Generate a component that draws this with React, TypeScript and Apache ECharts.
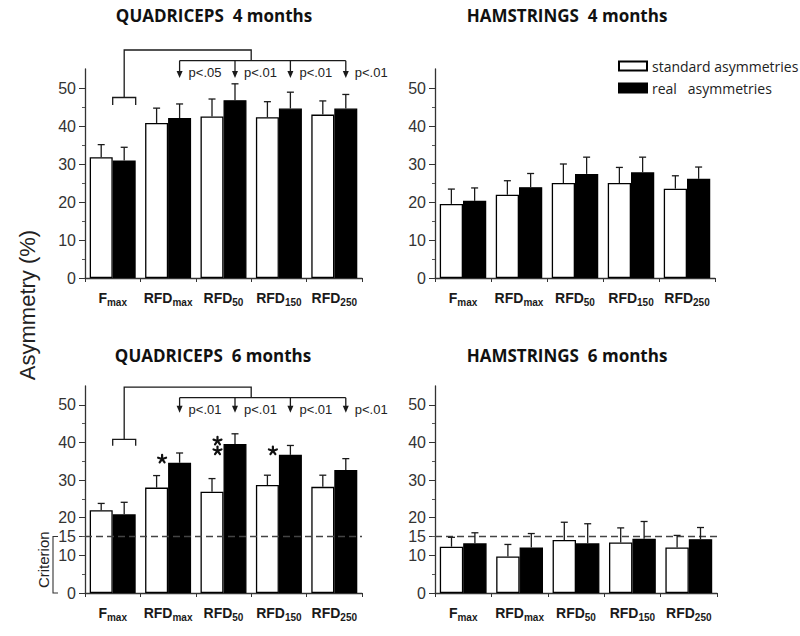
import React, { useEffect, useRef } from 'react';
import * as echarts from 'echarts';

// ---------- data ----------
const catBase = ['F', 'RFD', 'RFD', 'RFD', 'RFD'];
const catSub = ['max', 'max', '50', '150', '250'];
const categories = catBase.map((b, i) => b + '|' + catSub[i]);

const panelTitles = ['QUADRICEPS  4 months', 'HAMSTRINGS  4 months', 'QUADRICEPS  6 months', 'HAMSTRINGS  6 months'];
const seriesNames = ['standard asymmetries', 'real   asymmetries'];
const yAxisTitle = 'Asymmetry (%)';
const criterionTitle = 'Criterion';

const quad4Std = [31.8, 40.8, 42.5, 42.3, 43.0];
const quad4StdErr = [3.3, 3.9, 4.6, 4.1, 3.6];
const quad4Real = [30.9, 42.1, 46.8, 44.6, 44.6];
const quad4RealErr = [3.5, 3.7, 4.3, 4.3, 3.7];

const ham4Std = [19.5, 21.9, 25.0, 25.0, 23.5];
const ham4StdErr = [3.9, 3.7, 5.0, 4.1, 3.4];
const ham4Real = [20.3, 23.9, 27.4, 27.8, 26.1];
const ham4RealErr = [3.4, 3.6, 4.4, 4.0, 3.1];

const quad6Std = [22.0, 28.0, 26.9, 28.7, 28.2];
const quad6StdErr = [1.8, 3.2, 3.5, 2.6, 3.1];
const quad6Real = [20.9, 34.6, 39.6, 36.7, 32.7];
const quad6RealErr = [3.2, 2.6, 2.7, 2.5, 3.0];

const ham6Std = [12.3, 9.7, 14.1, 13.4, 12.1];
const ham6StdErr = [2.5, 3.2, 4.7, 3.9, 3.2];
const ham6Real = [13.2, 12.1, 13.2, 14.4, 14.3];
const ham6RealErr = [2.8, 3.7, 5.2, 4.6, 3.1];

const yTickLabels = [0, 10, 20, 30, 40, 50];
const yTickLabelsCriterion = [0, 10, 15, 20, 30, 40, 50];
const criterion = 15;

const pLabels4 = ['p<.05', 'p<.01', 'p<.01', 'p<.01'];
const pLabels6 = ['p<.01', 'p<.01', 'p<.01', 'p<.01'];
// [small bracket leg end, small bracket, top line, second line, arrow tip, p text level]
const bracketLevels4 = [45.5, 47.5, 60, 57.2, 52.6, 54.0];
const bracketLevels6 = [39.1, 40.8, 54.7, 51.9, 47.9, 48.8];
// significance asterisks (6 months quadriceps): levels of each asterisk per category
const starLevels6 = [[], [35.6], [40.4, 37.8], [37.8], []];

// ---------- layout ----------
const GAP = 0.17;
const grids = [
  { left: 85, top: 69, width: 277, height: 209 },
  { left: 435, top: 69, width: 280, height: 209 },
  { left: 85, top: 386, width: 277, height: 207 },
  { left: 435, top: 386, width: 282, height: 207 },
];
const titlePos = [
  [214, 15],
  [567, 15],
  [213, 355],
  [567, 355],
];

const panels = [
  { std: quad4Std, stdErr: quad4StdErr, real: quad4Real, realErr: quad4RealErr, crit: false, bracket: bracketLevels4 as number[] | null, p: pLabels4 as string[] | null, stars: false, critLabel: false },
  { std: ham4Std, stdErr: ham4StdErr, real: ham4Real, realErr: ham4RealErr, crit: false, bracket: null, p: null, stars: false, critLabel: false },
  { std: quad6Std, stdErr: quad6StdErr, real: quad6Real, realErr: quad6RealErr, crit: true, bracket: bracketLevels6, p: pLabels6, stars: true, critLabel: true },
  { std: ham6Std, stdErr: ham6StdErr, real: ham6Real, realErr: ham6RealErr, crit: true, bracket: null, p: null, stars: false, critLabel: false },
];

const LINE = '#1a1a1a';
const FONT = '"Liberation Sans", Arial, sans-serif';

function asterisk(x: number, y: number) {
  const r = 4.2;
  const spokes: any[] = [];
  for (let k = 0; k < 5; k++) {
    const a = -Math.PI / 2 + (k * 2 * Math.PI) / 5;
    spokes.push({
      type: 'line',
      shape: { x1: x, y1: y, x2: x + r * Math.cos(a), y2: y + r * Math.sin(a) },
      style: { stroke: '#111', lineWidth: 2.2, lineCap: 'round' },
    });
  }
  return spokes;
}

function buildOption() {
  const series: any[] = [];
  panels.forEach((pn, gi) => {
    series.push({
      name: seriesNames[0],
      type: 'bar',
      xAxisIndex: gi,
      yAxisIndex: gi,
      data: pn.std,
      barGap: '0%',
      barCategoryGap: (GAP * 100) + '%',
      itemStyle: { color: '#ffffff', borderColor: '#000', borderWidth: 1.3 },
      z: 2,
      markLine: pn.crit
        ? {
            silent: true,
            symbol: ['none', 'none'],
            label: { show: false },
            lineStyle: { type: [7, 4], color: '#444', width: 1.3 },
            data: [{ yAxis: criterion }],
          }
        : undefined,
    });
    series.push({
      name: seriesNames[1],
      type: 'bar',
      xAxisIndex: gi,
      yAxisIndex: gi,
      data: pn.real,
      barGap: '0%',
      barCategoryGap: (GAP * 100) + '%',
      itemStyle: { color: '#000000', borderColor: '#000', borderWidth: 1.3 },
      z: 2,
    });
    const errData: number[][] = [];
    pn.std.forEach((v, i) => errData.push([i, v, pn.stdErr[i], -1]));
    pn.real.forEach((v, i) => errData.push([i, v, pn.realErr[i], 1]));
    series.push({
      type: 'custom',
      xAxisIndex: gi,
      yAxisIndex: gi,
      z: 5,
      silent: true,
      encode: { x: 0, y: 1 },
      data: errData,
      renderItem: (params: any, api: any) => {
        const idx = api.value(0);
        const mean = api.value(1);
        const err = api.value(2);
        const side = api.value(3);
        const bw = api.size([1, 0])[0];
        const barW = (bw * (1 - GAP)) / 2;
        const c = api.coord([idx, mean]);
        const t = api.coord([idx, mean + err]);
        const x = c[0] + (side * barW) / 2;
        const st = { stroke: LINE, lineWidth: 1.3 };
        return {
          type: 'group',
          children: [
            { type: 'line', shape: { x1: x, y1: c[1], x2: x, y2: t[1] }, style: st },
            { type: 'line', shape: { x1: x - 3.5, y1: t[1], x2: x + 3.5, y2: t[1] }, style: st },
          ],
        };
      },
    });
    if (pn.bracket || pn.critLabel || pn.stars) {
      series.push({
        type: 'custom',
        xAxisIndex: gi,
        yAxisIndex: gi,
        z: 6,
        silent: true,
        clip: false,
        encode: { x: 0, y: 1 },
        data: [[0, 0]],
        renderItem: (params: any, api: any) => {
          const bw = api.size([1, 0])[0];
          const barW = (bw * (1 - GAP)) / 2;
          const cx = (i: number) => api.coord([i, 0])[0];
          const bc = (i: number) => cx(i) + barW / 2;
          const py = (v: number) => api.coord([0, v])[1];
          const st = { stroke: LINE, lineWidth: 1.3, fill: null };
          const children: any[] = [];
          if (pn.bracket) {
            const [leg, small, top, mid, tip, txt] = pn.bracket;
            const x0 = cx(0);
            const x1 = cx(0) + barW;
            const xs = (x0 + x1) / 2;
            children.push({
              type: 'polyline',
              shape: { points: [[x0, py(leg)], [x0, py(small)], [x1, py(small)], [x1, py(leg)]] },
              style: st,
            });
            const xb = cx(2) + bw / 2;
            children.push({
              type: 'polyline',
              shape: { points: [[xs, py(small)], [xs, py(top)], [xb, py(top)], [xb, py(mid)]] },
              style: st,
            });
            children.push({
              type: 'line',
              shape: { x1: bc(1), y1: py(mid), x2: bc(4), y2: py(mid) },
              style: st,
            });
            for (let i = 1; i <= 4; i++) {
              const x = bc(i);
              const yt = py(tip);
              children.push({ type: 'line', shape: { x1: x, y1: py(mid), x2: x, y2: yt - 6 }, style: st });
              children.push({
                type: 'polygon',
                shape: { points: [[x - 3, yt - 7], [x + 3, yt - 7], [x, yt]] },
                style: { fill: LINE },
              });
              children.push({
                type: 'text',
                x: x + 9,
                y: py(txt),
                style: {
                  text: pn.p![i - 1],
                  fill: '#222',
                  font: '13px ' + FONT,
                  align: 'left',
                  verticalAlign: 'middle',
                },
              });
            }
          }
          if (pn.stars) {
            starLevels6.forEach((lv, i) => {
              lv.forEach((v) => {
                children.push(...asterisk(cx(i) - 6, py(v)));
              });
            });
          }
          if (pn.critLabel) {
            const ax = cx(0) - bw / 2;
            const bx = ax - 32;
            children.push({
              type: 'polyline',
              shape: { points: [[bx + 5, py(criterion)], [bx, py(criterion)], [bx, py(0)], [bx + 5, py(0)]] },
              style: { stroke: '#333', lineWidth: 1.1, fill: null },
            });
            children.push({
              type: 'text',
              x: bx - 10,
              y: (py(criterion) + py(0)) / 2 - 5,
              rotation: Math.PI / 2,
              style: {
                text: criterionTitle,
                fill: '#222',
                font: '15px ' + FONT,
                align: 'center',
                verticalAlign: 'middle',
              },
            });
          }
          return { type: 'group', children };
        },
      });
    }
  });

  return {
    animation: false,
    backgroundColor: '#ffffff',
    textStyle: { fontFamily: FONT },
    grid: grids.map((g) => ({ ...g, containLabel: false })),
    legend: {
      data: seriesNames,
      orient: 'vertical',
      left: 613,
      top: 54,
      itemWidth: 28,
      itemHeight: 9,
      itemGap: 8,
      icon: 'rect',
      selectedMode: false,
      textStyle: { fontSize: 14, fontFamily: '"Open Sans", sans-serif', color: '#222' },
    },
    xAxis: grids.map((g, gi) => ({
      type: 'category',
      gridIndex: gi,
      data: categories,
      axisLine: { lineStyle: { color: '#333', width: 1.3 } },
      axisTick: { show: true, length: 4, lineStyle: { color: '#333' } },
      axisLabel: {
        margin: 11,
        interval: 0,
        formatter: (v: string) => {
          const [b, s] = v.split('|');
          return '{b|' + b + '}{s|' + s + '}';
        },
        rich: {
          b: { fontSize: 14, fontWeight: 'bold', color: '#1a1a1a', fontFamily: FONT, lineHeight: 18 },
          s: { fontSize: 10, fontWeight: 'bold', color: '#1a1a1a', fontFamily: FONT, verticalAlign: 'bottom', lineHeight: 18, padding: [6, 0, 0, 0] },
        },
      },
    })),
    yAxis: grids.map((g, gi) => {
      const labels = panels[gi].crit ? yTickLabelsCriterion : yTickLabels;
      return {
        type: 'value',
        gridIndex: gi,
        min: 0,
        max: 55,
        interval: 10,
        splitLine: { show: false },
        axisLine: { show: true, lineStyle: { color: '#333', width: 1.3 } },
        axisTick: { show: true, length: 6, customValues: labels, lineStyle: { color: '#333' } },
        minorTick: { show: true, splitNumber: 2, length: 3, lineStyle: { color: '#555' } },
        axisLabel: { customValues: labels, fontSize: 16, color: '#333', margin: 9, fontFamily: FONT },
      };
    }),
    graphic: [
      ...panelTitles.map((t, i) => ({
        type: 'text',
        x: titlePos[i][0],
        y: titlePos[i][1],
        style: {
          text: t,
          fill: '#111',
          font: 'bold 17px "Open Sans", sans-serif',
          align: 'center',
          verticalAlign: 'middle',
        },
      })),
      {
        type: 'text',
        x: 27,
        y: 305,
        rotation: Math.PI / 2,
        style: {
          text: yAxisTitle,
          fill: '#222',
          font: '22px ' + FONT,
          align: 'center',
          verticalAlign: 'middle',
        },
      },
    ],
    series,
  };
}

export default function App() {
  const ref = useRef<HTMLDivElement>(null);
  useEffect(() => {
    if (!ref.current) return;
    const chart = echarts.init(ref.current, null, { renderer: 'svg' });
    chart.setOption(buildOption() as any);
    return () => chart.dispose();
  }, []);
  return (
    <div
      ref={ref}
      style={{ position: 'fixed', left: 0, top: 0, width: 800, height: 636, background: '#fff' }}
    />
  );
}
